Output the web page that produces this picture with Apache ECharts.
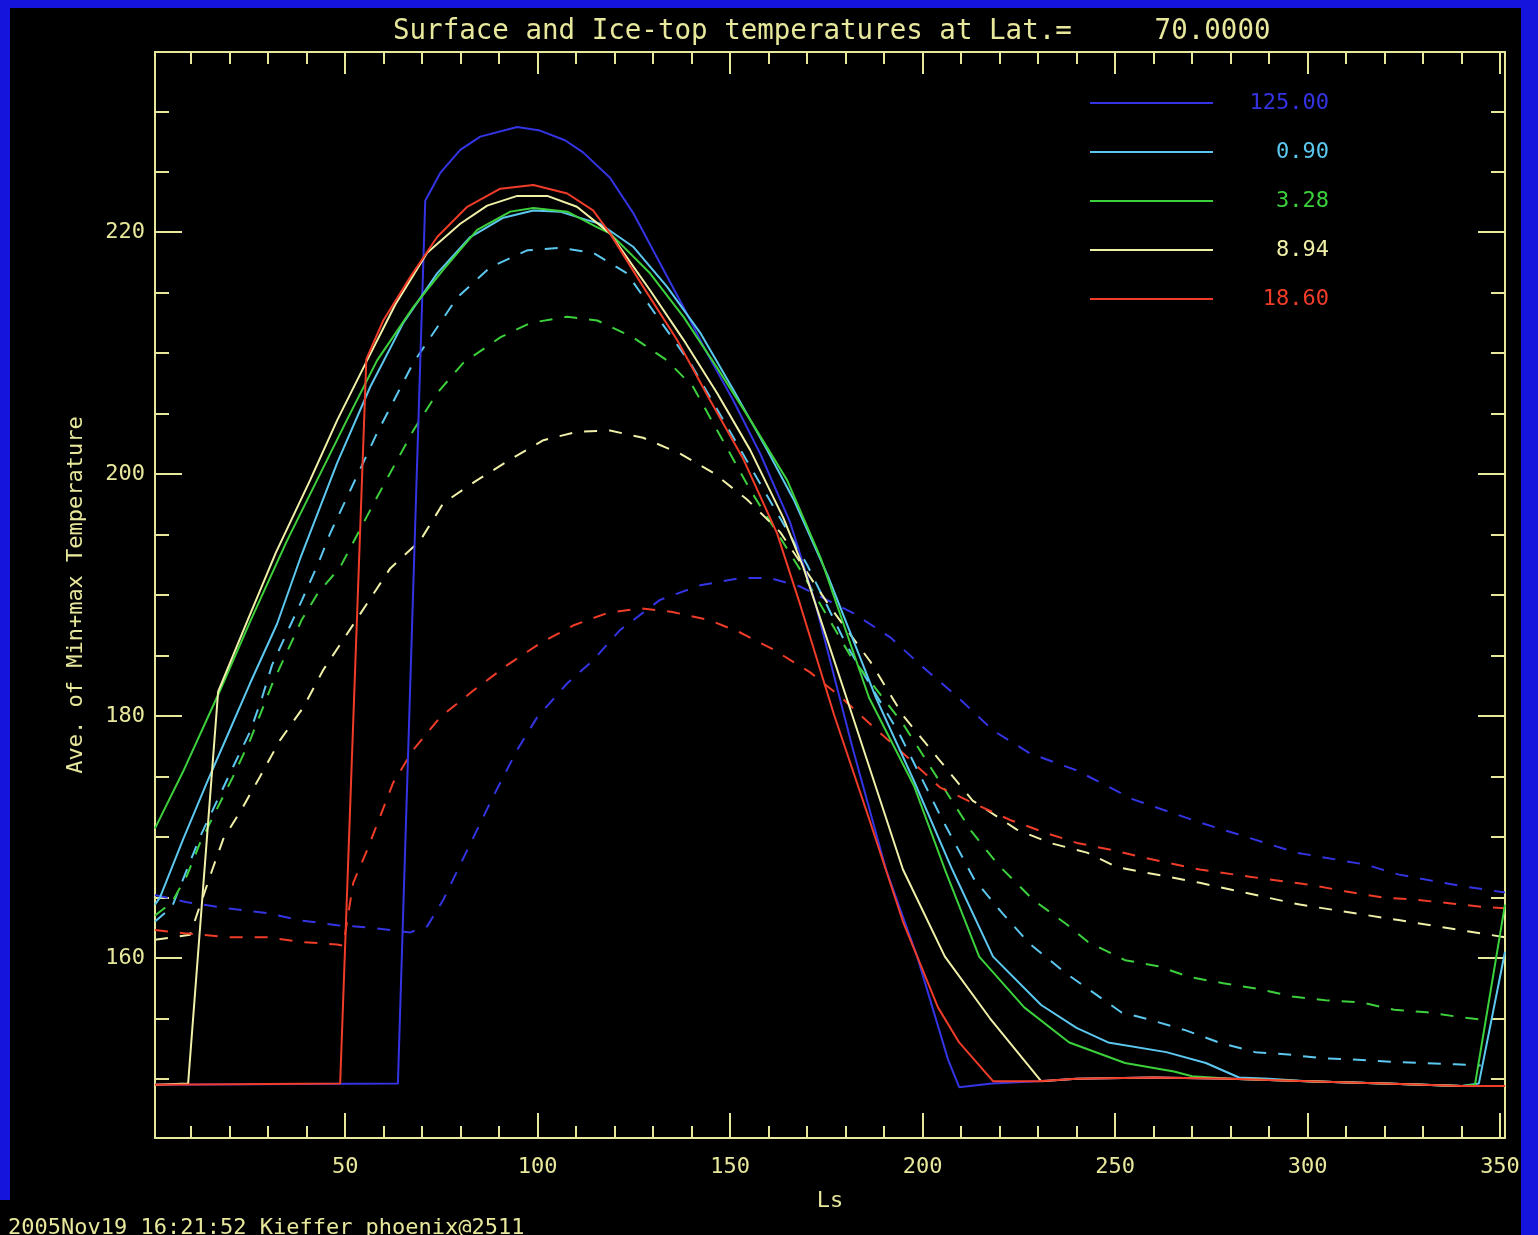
<!DOCTYPE html>
<html>
<head>
<meta charset="utf-8">
<script src="https://cdn.jsdelivr.net/npm/echarts@6/dist/echarts.min.js"></script>
<style>
  html, body { margin: 0; padding: 0; background: #000; }
  #chart { width: 1538px; height: 1235px; }
</style>
</head>
<body>
<div id="chart"></div>
<script>
// Ls tick values (major get labels, minor only ticks)
const lsMajor = [50, 100, 150, 200, 250, 300, 350];
const lsMinor = [10, 20, 30, 40, 50, 60, 70, 80, 90, 100, 110, 120, 130, 140, 150, 160, 170, 180,
  190, 200, 210, 220, 230, 240, 250, 260, 270, 280, 290, 300, 310, 320, 330, 340, 350];
const tMajor = [160, 180, 200, 220];
const tMinor = [150, 155, 160, 165, 170, 175, 180, 185, 190, 195, 200, 205, 210, 215, 220, 225, 230];

// legend labels (parameter values)
const names = ['125.00', '0.90', '3.28', '8.94', '18.60'];
const colors = ['#3434e4', '#5cc8f0', '#3cd03c', '#f0f0a8', '#f03c28'];

// surface temperature, [Ls, T]
const surf125 = [[0.6,149.5],[63.7,149.6],[70.8,222.6],[74.7,224.9],[79.9,226.8],[85.1,227.9],[94.7,228.7],
  [100.6,228.4],[107.1,227.6],[111.8,226.6],[118.8,224.5],[124.8,221.6],[131,217.9],[137.9,213.8],[144,210],
  [150.8,206.1],[157.8,201.7],[165.6,196.0],[172,189.5],[181.7,177.5],[190.5,167.3],[198.6,160.1],
  [206.6,151.6],[209.5,149.3],[218,149.6],[230,149.8],[240,150.0],[260,150.1],[280,150.0],[300,149.8],
  [320,149.6],[340,149.4],[351.3,149.4]];
const surf090 = [[0.6,164.4],[1.9,165.0],[7.9,169.8],[14.1,174.5],[19.3,178.3],[25.3,182.7],[32.3,187.6],
  [38.3,193.0],[47.9,200.9],[56.5,207.2],[65.1,212.5],[73.9,216.6],[82.5,219.6],[91.1,221.2],[98.9,221.8],
  [105.8,221.7],[112.9,221.0],[116.2,220.7],[124.8,218.8],[133.6,215.5],[142.2,211.7],[150.8,207.0],
  [159.6,202.0],[166.5,197.9],[175.5,191.5],[187.9,181.5],[197.8,174.6],[207.7,167.3],[218.3,160.1],
  [230.8,156.1],[240,154.2],[248.2,153.0],[263.3,152.2],[273.6,151.3],[282.2,150.1],[290,150.0],
  [300,149.8],[320,149.6],[340,149.4],[344.5,149.6],[351.3,160.5]];
const surf328 = [[0.6,170.7],[7.9,175.4],[17.5,182.1],[25.3,187.8],[34.9,194.5],[42.7,199.5],[50.5,204.5],
  [58.3,209.4],[67.7,213.8],[75.5,216.9],[84.3,220.2],[92.9,221.7],[98.9,222.0],[107.7,221.7],[115.5,220.4],
  [118.8,219.9],[129.2,216.6],[137.9,213],[146.6,208.8],[155.2,204.5],[164.8,199.5],[173.6,193.0],
  [186.1,181.5],[197.8,174.2],[205.8,167.3],[214.7,160.1],[226.4,155.9],[238.1,153.0],[252.6,151.3],
  [265.3,150.6],[270,150.2],[280,150.0],[300,149.8],[320,149.6],[340,149.4],[343.5,149.5],[351.3,164.4]];
const surf894 = [[0.6,149.5],[9.2,149.6],[17,182.0],[24.0,187.4],[32,193.5],[40.9,199.5],[48,204.5],
  [55.7,209.4],[63,214.0],[71.3,218.3],[79.9,220.7],[86.9,222.2],[94.7,223.0],[102.5,223.0],[110.2,222.1],
  [118.8,219.9],[129.2,215.2],[137.9,211.1],[146.6,206.7],[155.2,202.0],[163.8,196.4],[169,192.3],
  [181.7,180.1],[194.9,167.3],[205.8,160.1],[217.5,155.0],[230.8,149.8],[240,150.0],[260,150.1],
  [280,150.0],[300,149.8],[320,149.6],[340,149.4],[351.3,149.4]];
const surf1860 = [[0.6,149.5],[48.7,149.6],[55.5,209.5],[59.9,212.7],[66.9,216.3],[73.9,219.6],[81.7,222.1],
  [90.3,223.6],[98.9,223.9],[107.7,223.2],[114.4,221.8],[118.8,219.9],[127.4,215.5],[136.2,211.1],
  [144.8,206.1],[153.5,201.2],[162.2,195.1],[168.2,189.2],[177,180.1],[186.1,171.5],[194.9,163.0],
  [204,155.9],[209.5,153.0],[218.3,149.8],[230,149.8],[240,150.0],[260,150.1],[280,150.0],[300,149.8],
  [320,149.6],[340,149.4],[351.3,149.4]];

// ice-top temperature, [Ls, T]
const ice125 = [[0.6,165.2],[8.9,164.6],[19.3,164.1],[29.7,163.7],[38.3,163.1],[47.9,162.7],[56.5,162.5],
  [66.9,162.1],[71.3,162.6],[75.5,164.8],[81.7,168.9],[88.4,173.3],[94.7,177.2],[99.9,179.9],[107.7,182.7],
  [114.4,184.6],[121.4,187.1],[131.8,189.6],[142.2,190.8],[152.6,191.4],[160.4,191.4],[168.2,190.7],
  [182,188.5],[191.6,186.5],[200.2,184.0],[209,181.6],[218.3,178.8],[227.9,176.9],[240,175.5],
  [254.7,173.1],[272,171.2],[297,168.7],[315.2,167.7],[323.5,166.9],[332,166.4],[340.7,165.9],[351.3,165.4]];
const ice090 = [[0.6,163.0],[5,164.2],[8.9,167.3],[12.3,170],[20.9,175.8],[25.3,178.7],[28.4,181.5],
  [31,184.2],[34.9,186.9],[38.8,189.6],[43,192.6],[46.1,195.1],[58.3,203.4],[67.7,209.2],[79.1,214.6],
  [87.7,217.1],[97.3,218.5],[105.8,218.7],[114.4,218.3],[123.2,216.6],[130,213.5],[140,209],[150,203.5],
  [160,198],[170,192.5],[180,186],[194,178.5],[205,171.5],[213.4,166.5],[220.7,163.7],[227.7,161.2],
  [237.3,158.7],[251.6,155.5],[258.8,154.9],[268.4,154.0],[277,153.0],[286.4,152.2],[295,152.0],
  [303.6,151.7],[311.9,151.6],[321.5,151.4],[330,151.3],[338.3,151.2],[345,151.1]];
const ice328 = [[0.6,163.5],[5,164.6],[8.9,166.8],[12.3,169.5],[20.9,175.0],[25.3,178.0],[31,182.6],
  [38.8,188.0],[43,190.2],[48.7,192.3],[58.3,198.1],[67.7,203.6],[73.9,206.7],[80.7,209.2],[90.3,211.3],
  [98.1,212.5],[107.7,213.0],[115.5,212.7],[124.8,211.3],[133.6,209.4],[140.4,207.2],[155.2,198.7],
  [168.2,192.1],[181.2,185],[195,179.3],[212.6,170.5],[219.6,167.7],[228.7,164.8],[237.3,162.8],
  [243,161.3],[252.6,159.8],[261.2,159.3],[269.5,158.4],[278.1,157.9],[287.7,157.4],[296,156.8],
  [304.6,156.5],[314.2,156.3],[322.5,155.7],[331,155.5],[339.6,155.1],[345,154.9]];
const ice894 = [[0.6,161.5],[9.7,161.9],[15.5,167.3],[18.3,169.8],[23.5,172.5],[27.9,175.0],[33.1,178.0],
  [39.1,180.7],[44.3,183.8],[49.5,186.3],[55.7,189.3],[61.7,192.2],[69.5,194.5],[75.5,197.6],[84.3,199.5],
  [92.9,201.2],[101.5,202.8],[110.2,203.5],[118.8,203.6],[127.4,203.0],[137,201.7],[145.6,200.1],
  [154.4,197.9],[163,195.2],[176,189],[186.4,184.5],[195,180.0],[204,176.5],[213,173.0],
  [224.5,170.6],[233.1,169.5],[242.7,168.7],[250.5,167.5],[272,166.2],[298,164.4],[324,163.1],[351.3,161.7]];
const ice1860 = [[0.6,162.3],[9,162.0],[20,161.7],[29.7,161.7],[39.1,161.3],[47.9,161.1],[49.5,161.0],
  [52.1,166.2],[55.7,168.9],[59.1,171.7],[62.5,174.5],[67.7,177.2],[74.7,179.9],[83.3,182.1],[92.1,184.2],
  [100.6,186.0],[109.4,187.5],[118,188.5],[126.6,188.9],[135,188.6],[144.8,187.9],[152.6,186.9],
  [161.2,185.5],[170.8,183.6],[178.6,181.6],[187.2,179.1],[196,176.6],[204.5,174.1],[213.1,172.8],
  [222.7,171.4],[232.3,170.3],[240.1,169.5],[249.4,168.9],[257.2,168.3],[272,167.3],[285,166.7],
  [301.5,166.0],[309.7,165.5],[319.4,165.0],[328,164.8],[337.3,164.5],[345.9,164.2],[351.3,164.1]];

const surfData = [surf125, surf090, surf328, surf894, surf1860];
const iceData = [ice125, ice090, ice328, ice894, ice1860];

const axisColor = '#e8e89c';
const mono = 'DejaVu Sans Mono';
const xMin = 0.6, xMax = 351.3, yMin = 145.1, yMax = 234.9;

function xAx(pos, ticks, len, labels, line) {
  return {
    type: 'value', position: pos, min: xMin, max: xMax, gridIndex: 0,
    axisLine: { show: line, onZero: false, lineStyle: { color: axisColor, width: 2 } },
    axisTick: { show: true, inside: true, length: len, customValues: ticks,
      lineStyle: { color: axisColor, width: 2 } },
    axisLabel: labels ? { show: true, customValues: lsMajor, color: axisColor, fontFamily: mono,
      fontSize: 22, margin: 18 } : { show: false },
    splitLine: { show: false }
  };
}
function yAx(pos, ticks, len, labels, line) {
  return {
    type: 'value', position: pos, min: yMin, max: yMax, gridIndex: 0,
    axisLine: { show: line, onZero: false, lineStyle: { color: axisColor, width: 2 } },
    axisTick: { show: true, inside: true, length: len, customValues: ticks,
      lineStyle: { color: axisColor, width: 2 } },
    axisLabel: labels ? { show: true, customValues: tMajor, color: axisColor, fontFamily: mono,
      fontSize: 22, margin: 10 } : { show: false },
    splitLine: { show: false }
  };
}

const xAxes = [xAx('bottom', lsMajor, 25, true, true), xAx('bottom', lsMinor, 12, false, false),
  xAx('top', lsMajor, 22, false, true), xAx('top', lsMinor, 12, false, false)];
xAxes[0].name = 'Ls';
xAxes[0].nameLocation = 'middle';
xAxes[0].nameGap = 52;
xAxes[0].nameTextStyle = { color: axisColor, fontFamily: mono, fontSize: 22 };

const yAxes = [yAx('left', tMajor, 27, true, true), yAx('left', tMinor, 14, false, false),
  yAx('right', tMajor, 27, false, true), yAx('right', tMinor, 14, false, false)];
yAxes[0].name = 'Ave. of Min+max Temperature';
yAxes[0].nameLocation = 'middle';
yAxes[0].nameGap = 68;
yAxes[0].nameRotate = 90;
yAxes[0].nameTextStyle = { color: axisColor, fontFamily: mono, fontSize: 22 };

const series = [];
iceData.forEach((d, i) => series.push({
  name: names[i] + ' ice', type: 'line', data: d, xAxisIndex: 0, yAxisIndex: 0,
  showSymbol: false, symbol: 'none', silent: true,
  lineStyle: { color: colors[i], width: 2, type: [13, 12] }
}));
surfData.forEach((d, i) => series.push({
  name: names[i], type: 'line', data: d, xAxisIndex: 0, yAxisIndex: 0,
  showSymbol: false, symbol: 'none', silent: true,
  lineStyle: { color: colors[i], width: 2 }, itemStyle: { color: colors[i] }
}));

const rich = {};
names.forEach((n, i) => { rich['c' + i] = { color: colors[i], width: 111, align: 'right',
  fontFamily: mono, fontSize: 22 }; });

const chart = echarts.init(document.getElementById('chart'));
chart.setOption({
  animation: false,
  backgroundColor: '#000',
  title: {
    text: 'Surface and Ice-top temperatures at Lat.=     70.0000',
    left: 388, top: 13,
    textStyle: { color: axisColor, fontFamily: mono, fontSize: 27.5, fontWeight: 'normal' }
  },
  grid: { left: 155, top: 52, right: 33, bottom: 97, containLabel: false },
  legend: {
    data: names, orient: 'vertical', left: 1085, top: 85,
    itemWidth: 123, itemHeight: 26, itemGap: 23, icon: 'path://M0,12L123,12L123,14L0,14Z',
    formatter: n => '{c' + names.indexOf(n) + '|' + n + '}',
    textStyle: { rich: rich, lineHeight: 26 }, selectedMode: false
  },
  graphic: [
    { type: 'rect', shape: { x: 0, y: 0, width: 1538, height: 8 }, style: { fill: '#1414dc' } },
    { type: 'rect', shape: { x: 0, y: 0, width: 10, height: 1200 }, style: { fill: '#1414dc' } },
    { type: 'rect', shape: { x: 1521, y: 0, width: 17, height: 1235 }, style: { fill: '#1414dc' } },
    { type: 'text', left: 8, top: 1217,
      style: { text: '2005Nov19 16:21:52 Kieffer phoenix@2511', fill: axisColor,
        font: '22px "DejaVu Sans Mono"' } }
  ],
  xAxis: xAxes,
  yAxis: yAxes,
  series: series
});
</script>
</body>
</html>
